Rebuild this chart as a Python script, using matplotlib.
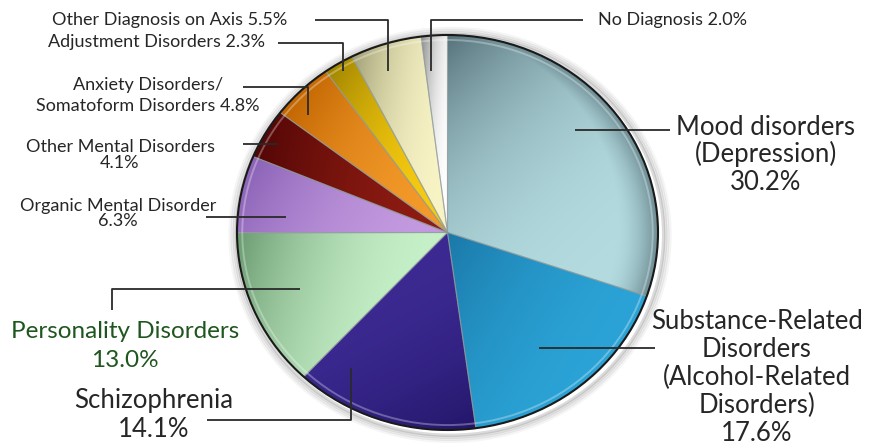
import numpy as np
import matplotlib
matplotlib.use("Agg")
import matplotlib.pyplot as plt
from matplotlib.colors import to_rgb
from matplotlib.patches import Ellipse

plt.rcParams['font.family'] = ['Lato', 'DejaVu Sans']

# ---- data ----
categories = ["Mood disorders\n(Depression)",
              "Substance-Related\nDisorders\n(Alcohol-Related\nDisorders)",
              "Schizophrenia",
              "Personality Disorders",
              "Organic Mental Disorder",
              "Other Mental Disorders",
              "Anxiety Disorders/\nSomatoform Disorders",
              "Adjustment Disorders",
              "Other Diagnosis on Axis",
              "No Diagnosis"]
values = [30.2, 17.6, 14.1, 13.0, 6.3, 4.1, 4.8, 2.3, 5.5, 2.0]

# ---- styles ----
light_cols = ["#b4dce0", "#2ba3d6", "#3c2a92", "#c6f0c8", "#c49ae0",
              "#8e1c12", "#f39a2a", "#f8cc10", "#f8f4c6", "#ffffff"]
dark_cols = ["#56727a", "#1a78a8", "#24166a", "#6a9a70", "#8a62b6",
             "#520606", "#c06400", "#a08400", "#a09e74", "#8a8a8a"]
dark_dir = [135, 150, -60, 165, 150, 170, 150, 150, 170, 175]
gammas = [2.8, 1.8, 1.8, 2.0, 2.0, 1.8, 2.2, 2.2, 2.4, 2.4]
rim_dark = [0.75, 0.0, 0.0, 0.0, 0.0, 0.0, 0.3, 0.3, 0.0, 0.0]

W, H = 874, 448
cx, cy = 447.5, 232.5      # pie centre in pixels (y down)
rx, ry = 210.5, 197.5      # pie radii in pixels

fig = plt.figure(figsize=(W / 100, H / 100), dpi=100)
ax = fig.add_axes([0, 0, 1, 1])
wedges, _ = ax.pie(values, startangle=90, counterclock=False, radius=1,
                   colors=light_cols,
                   wedgeprops=dict(edgecolor=(0.55, 0.6, 0.6, 0.6), linewidth=0.8))
ax.set_aspect('auto')
ax.set_xlim(-cx / rx, (W - cx) / rx)
ax.set_ylim(-(H - cy) / ry, cy / ry)
ax.axis('off')

# outer shadow / glow
for k, a in [(1.045, 0.04), (1.035, 0.06), (1.025, 0.09), (1.015, 0.14)]:
    ax.add_patch(Ellipse((0.012, -0.012), 2 * k, 2 * k, facecolor='none',
                         edgecolor=(0, 0, 0, a), linewidth=2.5, zorder=0))

# gradients clipped to each wedge
n = 500
xs = np.linspace(-1, 1, n)
X, Y = np.meshgrid(xs, xs[::-1])
R = np.hypot(X, Y)
for w, lc, dc, ang, g, rd in zip(wedges, light_cols, dark_cols, dark_dir, gammas, rim_dark):
    d = np.array([np.cos(np.radians(ang)), np.sin(np.radians(ang))])
    th1, th2 = np.radians(w.theta1), np.radians(w.theta2)
    ths = np.linspace(th1, th2, 50)
    px = np.concatenate([[0], np.cos(ths)])
    py = np.concatenate([[0], np.sin(ths)])
    proj = px * d[0] + py * d[1]
    pmin, pmax = proj.min(), proj.max()
    P = X * d[0] + Y * d[1]
    t = np.clip((P - pmin) / (pmax - pmin + 1e-9), 0, 1) ** g
    if rd > 0:
        t = np.maximum(t, rd * np.clip((R - 0.78) / 0.22, 0, 1) ** 2)
    L = np.array(to_rgb(lc)); D = np.array(to_rgb(dc))
    img = L[None, None, :] * (1 - t[..., None]) + D[None, None, :] * t[..., None]
    im = ax.imshow(img, extent=(-1, 1, -1, 1), aspect='auto', zorder=1.5,
                   interpolation='bilinear')
    im.set_clip_path(w)

for w in wedges:
    w.set_facecolor('none')
    w.set_zorder(2)

# rim
ax.add_patch(Ellipse((0, 0), 1.95, 1.95, facecolor='none',
                     edgecolor=(1, 1, 1, 0.3), linewidth=1.4, zorder=3))
ax.add_patch(Ellipse((0, 0), 2.0, 2.0, facecolor='none',
                     edgecolor='#1a1a1a', linewidth=1.5, zorder=3))

# ---- labels (pixel overlay) ----
ov = fig.add_axes([0, 0, 1, 1])
ov.set_xlim(0, W); ov.set_ylim(H, 0); ov.axis('off'); ov.patch.set_alpha(0)

txt_col = "#262626"
lc = "#2a2a2a"
# (x, ha, baselines, sep, fontsize, color, leader points)
layout = [
    (766, 'center', [135, 162, 190], "\n", 18.5, txt_col, [(575, 130), (670, 130)]),
    (757, 'center', [329, 357, 385, 413, 441], "\n", 18.5, txt_col, [(539, 348), (655, 348)]),
    (154, 'center', [408, 437], "\n", 18.5, txt_col, [(207, 420), (351, 420), (351, 368)]),
    (125, 'center', [338, 367], "\n", 17.5, "#1f561f", [(112, 310), (112, 289), (300, 289)]),
    (118, 'center', [211, 226], "\n", 13, txt_col, [(206, 217), (286, 217)]),
    (120, 'center', [152, 168], "\n", 13, txt_col, [(243, 144), (278, 144)]),
    (148, 'center', [90, 111], " ", 13, txt_col, [(243, 87), (308, 87), (308, 115)]),
    (265, 'right', [47], " ", 13, txt_col, [(278, 43), (343, 43), (343, 71)]),
    (287, 'right', [25], " ", 13, txt_col, [(315, 20), (388, 20), (388, 71)]),
    (598, 'left', [25], " ", 13, txt_col, [(583, 20), (431, 20), (431, 71)]),
]
for name, val, (x, ha, bls, sep, fs, col, pts) in zip(categories, values, layout):
    s = f"{name}{sep}{val:.1f}%"
    for line, yb in zip(s.split("\n"), bls):
        ov.text(x, yb, line, ha=ha, va='baseline', fontsize=fs, color=col)
    xs_, ys_ = zip(*pts)
    ov.plot(xs_, ys_, color=lc, lw=1.3, solid_capstyle='butt', zorder=5)

fig.savefig("out.png", dpi=100)
